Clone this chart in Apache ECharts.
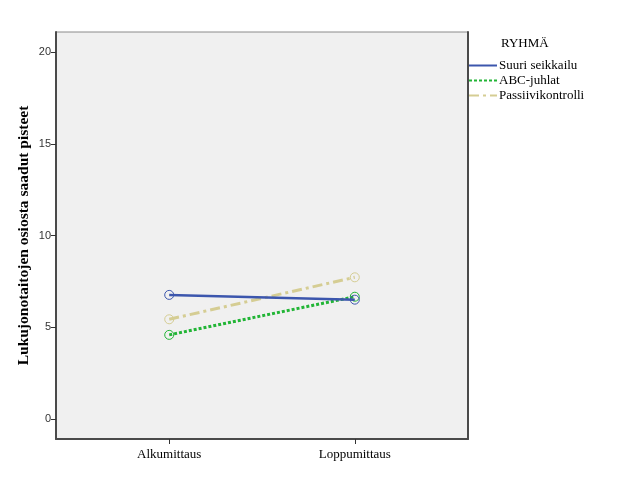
<!DOCTYPE html>
<html><head><meta charset="utf-8">
<script src="https://cdn.jsdelivr.net/npm/echarts@6/dist/echarts.min.js"></script>
<style>html,body{margin:0;padding:0;background:#fff}#c{width:626px;height:501px}</style>
</head><body><div id="c"></div>
<script>
const categories = ['Alkumittaus', 'Loppumittaus'];
const seriesNames = ['Suuri seikkailu', 'ABC-juhlat', 'Passiivikontrolli'];
const suuriSeikkailu = [6.76, 6.5];
const abcJuhlat = [4.58, 6.66];
const passiivikontrolli = [5.43, 7.72];
const yTicks = [0, 5, 10, 15, 20];
const yTitle = 'Lukujonotaitojen osiosta saadut pisteet';
const legendTitle = 'RYHMÄ';

const colors = ['#3c56ad', '#22b536', '#d5cd93'];
const lineTypes = ['solid', [3, 2], [10, 4, 3, 4]];
const values = [suuriSeikkailu, abcJuhlat, passiivikontrolli];
const serif = '"Liberation Serif", "DejaVu Serif", serif';

const chart = echarts.init(document.getElementById('c'), null, {renderer: 'canvas'});
chart.setOption({
  animation: false,
  backgroundColor: '#ffffff',
  title: {text: legendTitle, left: 501, top: 37, padding: 0,
    textStyle: {fontFamily: serif, fontSize: 13, fontWeight: 'normal', color: '#000'}},
  legend: {orient: 'vertical', left: 468, top: 59, padding: 0, itemWidth: 28, itemHeight: 8, itemGap: 2,
    data: seriesNames, itemStyle: {opacity: 0},
    textStyle: {fontFamily: serif, fontSize: 13, lineHeight: 13, color: '#000', padding: [0, 0, 0, -3]}},
  grid: {left: 56, top: 32, width: 412, height: 407, show: true,
    backgroundColor: '#f0f0f0', borderColor: '#8a8a8a', borderWidth: 1},
  xAxis: {type: 'value', min: -0.61, max: 1.61,
    axisLine: {show: true, onZero: false, lineStyle: {color: '#4a4a4a', width: 2}},
    axisTick: {show: true, length: 5, customValues: [0, 1], lineStyle: {color: '#333'}},
    axisLabel: {customValues: [0, 1], formatter: v => categories[Math.round(v)] || '',
      fontFamily: serif, fontSize: 13, color: '#000', margin: 9},
    splitLine: {show: false}},
  yAxis: [{type: 'value', min: -1.1, max: 21.1,
    axisLine: {show: true, onZero: false, lineStyle: {color: '#4a4a4a', width: 2}},
    axisTick: {show: true, length: 5, customValues: yTicks, lineStyle: {color: '#333'}},
    axisLabel: {customValues: yTicks, fontFamily: '"Liberation Sans", Arial, sans-serif',
      fontSize: 11, color: '#333', margin: 5},
    splitLine: {show: false},
    name: yTitle, nameLocation: 'middle', nameGap: 24, nameRotate: 90, nameMoveOverlap: false,
    nameTextStyle: {fontFamily: serif, fontSize: 15.5, fontWeight: 'bold', color: '#000'}},
    {type: 'value', position: 'right', min: -1.1, max: 21.1,
    axisLine: {show: true, onZero: false, lineStyle: {color: '#4a4a4a', width: 2}},
    axisTick: {show: false}, axisLabel: {show: false}, splitLine: {show: false}}],
  series: seriesNames.map((n, i) => ({
    name: n, type: 'line', yAxisIndex: 0,
    data: values[i].map((v, j) => [j, v]),
    symbol: 'circle', symbolSize: 9, showSymbol: true,
    itemStyle: {color: 'rgba(0,0,0,0)', borderColor: colors[i], borderWidth: 1},
    lineStyle: {color: colors[i], width: i === 0 ? 2.5 : 3, type: lineTypes[i]},
    z: 3 - i
  }))
});
</script></body></html>
